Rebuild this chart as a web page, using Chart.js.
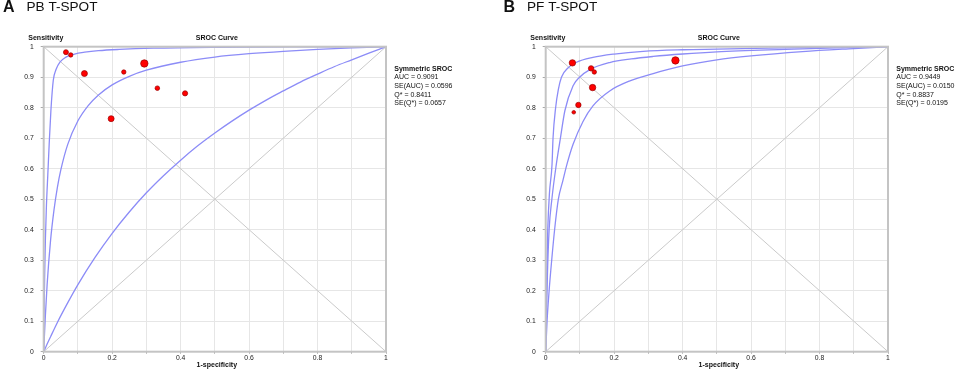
<!DOCTYPE html>
<html>
<head>
<meta charset="utf-8">
<script src="https://cdn.jsdelivr.net/npm/chart.js@4/dist/chart.umd.min.js"></script>
<style>
  body { margin: 0; background: #fff; }
  .panel { position: absolute; top: 0; }
</style>
</head>
<body>
<div class="panel" style="left:0px"><canvas id="sroc-a" width="478" height="370"></canvas></div>
<div class="panel" style="left:502px"><canvas id="sroc-b" width="455" height="370"></canvas></div>
<script>
// Panel titles
const panelLetters = ['A', 'B'];
const panelNames = ['PB T-SPOT', 'PF T-SPOT'];

// Axis ticks
const tickValues = [0, 0.1, 0.2, 0.3, 0.4, 0.5, 0.6, 0.7, 0.8, 0.9, 1];

// Studies, panel A (1-specificity, sensitivity, weight)
const studyFprA = [0.065, 0.079, 0.119, 0.234, 0.294, 0.332, 0.413, 0.197];
const studySensA = [0.982, 0.973, 0.912, 0.917, 0.945, 0.864, 0.847, 0.764];
const studyWeightA = [25, 22, 30, 22, 37, 23, 26, 30];

// Studies, panel B
const studyFprB = [0.078, 0.1326, 0.142, 0.137, 0.0955, 0.082, 0.379];
const studySensB = [0.947, 0.929, 0.917, 0.866, 0.809, 0.785, 0.955];
const studyWeightB = [32, 27, 22, 32, 27, 18, 37];

// SROC curve and its two bounding curves, panel A  [1-spec, sens]
const curveInnerA = [[0,0],[0.001,0.12],[0.003,0.26],[0.005,0.37],[0.008,0.48],[0.012,0.58],[0.016,0.68],[0.021,0.79],[0.028,0.89],[0.036,0.925],[0.048,0.95],[0.065,0.966],[0.09,0.976],[0.12,0.982],[0.16,0.987],[0.22,0.991],[0.32,0.995],[0.5,0.998],[0.75,0.9995],[1,1]];
const curveMidA = [[0,0],[0.002,0.05],[0.005,0.12],[0.01,0.22],[0.02,0.364],[0.03,0.464],[0.04,0.539],[0.05,0.596],[0.07,0.679],[0.1,0.757],[0.13,0.807],[0.16,0.842],[0.2,0.875],[0.25,0.903],[0.3,0.923],[0.4,0.949],[0.5,0.966],[0.6,0.977],[0.7,0.985],[0.8,0.991],[0.9,0.996],[1,1]];
const curveOuterA = [[0,0],[0.01,0.025],[0.02,0.049],[0.04,0.096],[0.07,0.16],[0.1,0.22],[0.15,0.309],[0.2,0.388],[0.25,0.458],[0.3,0.521],[0.35,0.577],[0.4,0.628],[0.45,0.675],[0.5,0.717],[0.55,0.756],[0.6,0.792],[0.65,0.825],[0.7,0.855],[0.75,0.884],[0.8,0.91],[0.85,0.935],[0.9,0.957],[0.95,0.979],[1,1]];

// panel B
const curveInnerB = [[0,0],[0.001,0.1],[0.003,0.25],[0.006,0.4],[0.011,0.52],[0.0185,0.614],[0.0214,0.7],[0.029,0.8],[0.037,0.86],[0.046,0.9],[0.065,0.93],[0.09,0.949],[0.138,0.965],[0.2,0.976],[0.285,0.985],[0.4,0.99],[0.5,0.992],[0.65,0.995],[0.8,0.998],[1,1]];
const curveMidB = [[0,0],[0.002,0.1],[0.005,0.25],[0.01,0.4],[0.018,0.5],[0.031,0.614],[0.043,0.7],[0.056,0.79],[0.08,0.872],[0.099,0.9],[0.129,0.925],[0.187,0.948],[0.25,0.96],[0.314,0.968],[0.4,0.976],[0.5,0.983],[0.7,0.991],[0.85,0.996],[1,1]];
const curveOuterB = [[0,0],[0.004,0.1],[0.01,0.2],[0.0175,0.3],[0.026,0.4],[0.037,0.5],[0.05,0.56],[0.062,0.614],[0.08,0.68],[0.109,0.755],[0.138,0.806],[0.187,0.855],[0.246,0.888],[0.314,0.912],[0.4,0.937],[0.5,0.957],[0.6,0.97],[0.75,0.984],[0.9,0.994],[1,1]];

// reference lines
const diagUp = [[0,0],[1,1]];
const diagDown = [[0,1],[1,0]];

// Symmetric SROC statistics
const statsA = ['AUC = 0.9091', 'SE(AUC) = 0.0596', 'Q* = 0.8411', 'SE(Q*) = 0.0657'];
const statsB = ['AUC = 0.9449', 'SE(AUC) = 0.0150', 'Q* = 0.8837', 'SE(Q*) = 0.0195'];

const FONT = '"Liberation Sans", Arial, sans-serif';
const toXY = arr => arr.map(p => ({ x: p[0], y: p[1] }));

// texts around the plot + frame
const srocDecor = {
    id: 'srocDecor',
    afterDraw(chart, args, opts) {
        const { ctx, chartArea: a } = chart;
        ctx.save();
        ctx.strokeStyle = '#c4c4c4';
        ctx.lineWidth = 2;
        ctx.strokeRect(a.left, a.top, a.right - a.left, a.bottom - a.top);

        ctx.fillStyle = '#111';
        ctx.textBaseline = 'middle';
        ctx.textAlign = 'left';
        ctx.font = 'bold 16px ' + FONT;
        ctx.fillText(opts.letter, opts.letterX, 8);
        ctx.font = '13.6px ' + FONT;
        ctx.fillText(opts.name, opts.letterX + 23.5, 7);

        ctx.font = 'bold 7px ' + FONT;
        ctx.fillText('Sensitivity', 28.3, 38.5);
        ctx.textAlign = 'center';
        ctx.fillText('SROC Curve', (a.left + a.right) / 2 + 2, 38.5);
        ctx.fillText('1-specificity', (a.left + a.right) / 2 + 2, 365.5);

        ctx.textAlign = 'left';
        ctx.fillText('Symmetric SROC', a.right + 8.3, 69);
        ctx.font = '7px ' + FONT;
        opts.stats.forEach((s, i) => ctx.fillText(s, a.right + 8.3, 77.4 + i * 8.6));
        ctx.restore();
    }
};

function makeChart(canvasId, k) {
    const fpr = k === 0 ? studyFprA : studyFprB;
    const sens = k === 0 ? studySensA : studySensB;
    const weight = k === 0 ? studyWeightA : studyWeightB;
    const curves = k === 0 ? [curveInnerA, curveMidA, curveOuterA] : [curveInnerB, curveMidB, curveOuterB];
    const canvas = document.getElementById(canvasId);

    const curveSets = curves.map(c => ({
        type: 'line',
        data: toXY(c),
        borderColor: '#8c8cf7',
        borderWidth: 1.3,
        pointRadius: 0,
        cubicInterpolationMode: 'monotone',
        order: 1
    }));
    const diagSets = [diagUp, diagDown].map(d => ({
        type: 'line',
        data: toXY(d),
        borderColor: '#cacaca',
        borderWidth: 1,
        pointRadius: 0,
        order: 2
    }));

    return new Chart(canvas, {
        type: 'scatter',
        data: {
            datasets: [{
                data: fpr.map((x, i) => ({ x: x, y: sens[i] })),
                backgroundColor: '#ff0000',
                borderColor: '#9a0000',
                borderWidth: 0.7,
                pointRadius: weight.map(w => w / 10),
                order: 0
            }, ...curveSets, ...diagSets]
        },
        options: {
            responsive: false,
            animation: false,
            devicePixelRatio: 1,
            layout: { padding: { left: 0, top: 46.7, right: canvas.width - 386, bottom: 0 } },
            plugins: {
                legend: { display: false },
                tooltip: { enabled: false },
                srocDecor: {
                    letter: panelLetters[k],
                    name: panelNames[k],
                    letterX: k === 0 ? 3 : 1.5,
                    stats: k === 0 ? statsA : statsB
                }
            },
            scales: {
                x: {
                    type: 'linear', min: 0, max: 1,
                    afterBuildTicks: s => { s.ticks = tickValues.map(v => ({ value: v })); },
                    afterFit: s => { s.height = 18.3; },
                    grid: { color: '#e6e6e6', tickLength: 2, tickColor: '#aaa' },
                    border: { display: false },
                    ticks: {
                        padding: 0,
                        maxRotation: 0,
                        autoSkip: false,
                        color: '#222',
                        font: { family: FONT, size: 6.8 },
                        callback: (v, i) => i % 2 === 0 ? String(Math.round(v * 10) / 10) : ''
                    }
                },
                y: {
                    type: 'linear', min: 0, max: 1,
                    afterBuildTicks: s => { s.ticks = tickValues.map(v => ({ value: v })); },
                    afterFit: s => { s.width = 43.7; },
                    grid: { color: '#e6e6e6', tickLength: 3, tickColor: '#aaa' },
                    border: { display: false },
                    ticks: {
                        padding: 7,
                        autoSkip: false,
                        color: '#222',
                        font: { family: FONT, size: 6.8 },
                        callback: v => String(Math.round(v * 10) / 10)
                    }
                }
            }
        },
        plugins: [srocDecor]
    });
}

makeChart('sroc-a', 0);
makeChart('sroc-b', 1);
</script>
</body>
</html>
